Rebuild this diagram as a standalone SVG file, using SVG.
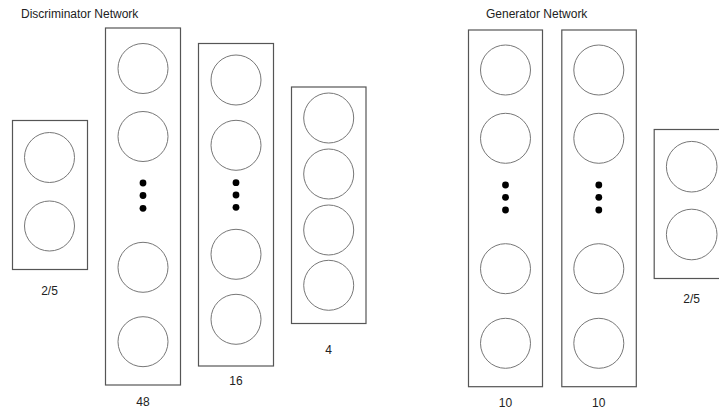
<svg xmlns="http://www.w3.org/2000/svg" width="719" height="410" viewBox="0 0 719 410">
<style>
.box{fill:#fff;stroke:#555;stroke-width:1.2}
.n{fill:#fff;stroke:#777;stroke-width:1}
.dot{fill:#000}
text{font-family:"Liberation Sans",Arial,sans-serif;font-size:12px;fill:#222;text-anchor:middle}
.t{text-anchor:start}
</style>
<rect width="719" height="410" fill="#fff"/>
<text class="t" x="21" y="18">Discriminator Network</text>
<text class="t" x="486" y="18">Generator Network</text>
<g id="d-input">
<rect class="box" x="12.5" y="120.5" width="75" height="149"/>
<circle class="n" cx="49.5" cy="157.5" r="25"/>
<circle class="n" cx="49.5" cy="226" r="25"/>
<text x="49.5" y="295">2/5</text>
</g>
<g id="d-hidden1">
<rect class="box" x="105.5" y="28" width="75" height="357"/>
<circle class="n" cx="143" cy="68.5" r="25"/>
<circle class="n" cx="143" cy="136.5" r="25"/>
<circle class="dot" cx="143" cy="183" r="3.4"/>
<circle class="dot" cx="143" cy="195.5" r="3.4"/>
<circle class="dot" cx="143" cy="208.3" r="3.4"/>
<circle class="n" cx="143" cy="267.3" r="25"/>
<circle class="n" cx="143" cy="341.7" r="25"/>
<text x="143" y="406">48</text>
</g>
<g id="d-hidden2">
<rect class="box" x="198.5" y="43.5" width="75" height="322.5"/>
<circle class="n" cx="236" cy="80" r="25"/>
<circle class="n" cx="236" cy="145.3" r="25"/>
<circle class="dot" cx="236" cy="182.7" r="3.4"/>
<circle class="dot" cx="236" cy="195" r="3.4"/>
<circle class="dot" cx="236" cy="207.3" r="3.4"/>
<circle class="n" cx="236" cy="254.3" r="25"/>
<circle class="n" cx="236" cy="319.3" r="25"/>
<text x="236" y="385">16</text>
</g>
<g id="d-hidden3">
<rect class="box" x="291.5" y="87" width="74.5" height="236.5"/>
<circle class="n" cx="328.7" cy="118" r="25"/>
<circle class="n" cx="328.7" cy="174" r="25"/>
<circle class="n" cx="328.7" cy="230" r="25"/>
<circle class="n" cx="328.7" cy="285.3" r="25"/>
<text x="328.7" y="354">4</text>
</g>
<g id="g-hidden1">
<rect class="box" x="468.5" y="30" width="74" height="356.7"/>
<circle class="n" cx="505.5" cy="70" r="25"/>
<circle class="n" cx="505.5" cy="138.3" r="25"/>
<circle class="dot" cx="505.5" cy="185" r="3.4"/>
<circle class="dot" cx="505.5" cy="197.3" r="3.4"/>
<circle class="dot" cx="505.5" cy="210" r="3.4"/>
<circle class="n" cx="505.5" cy="268.7" r="25"/>
<circle class="n" cx="505.5" cy="343.3" r="25"/>
<text x="505.5" y="407">10</text>
</g>
<g id="g-hidden2">
<rect class="box" x="561.8" y="30" width="74.5" height="356.7"/>
<circle class="n" cx="598.8" cy="70" r="25"/>
<circle class="n" cx="598.8" cy="138.3" r="25"/>
<circle class="dot" cx="598.8" cy="185" r="3.4"/>
<circle class="dot" cx="598.8" cy="197.3" r="3.4"/>
<circle class="dot" cx="598.8" cy="210" r="3.4"/>
<circle class="n" cx="598.8" cy="268.7" r="25"/>
<circle class="n" cx="598.8" cy="343.3" r="25"/>
<text x="598.8" y="407">10</text>
</g>
<g id="g-output">
<rect class="box" x="654.2" y="129.5" width="75" height="149"/>
<circle class="n" cx="691.7" cy="166.7" r="25.3"/>
<circle class="n" cx="691.7" cy="234.5" r="25.3"/>
<text x="691.7" y="303">2/5</text>
</g>
<g id="connectors"/>
</svg>
